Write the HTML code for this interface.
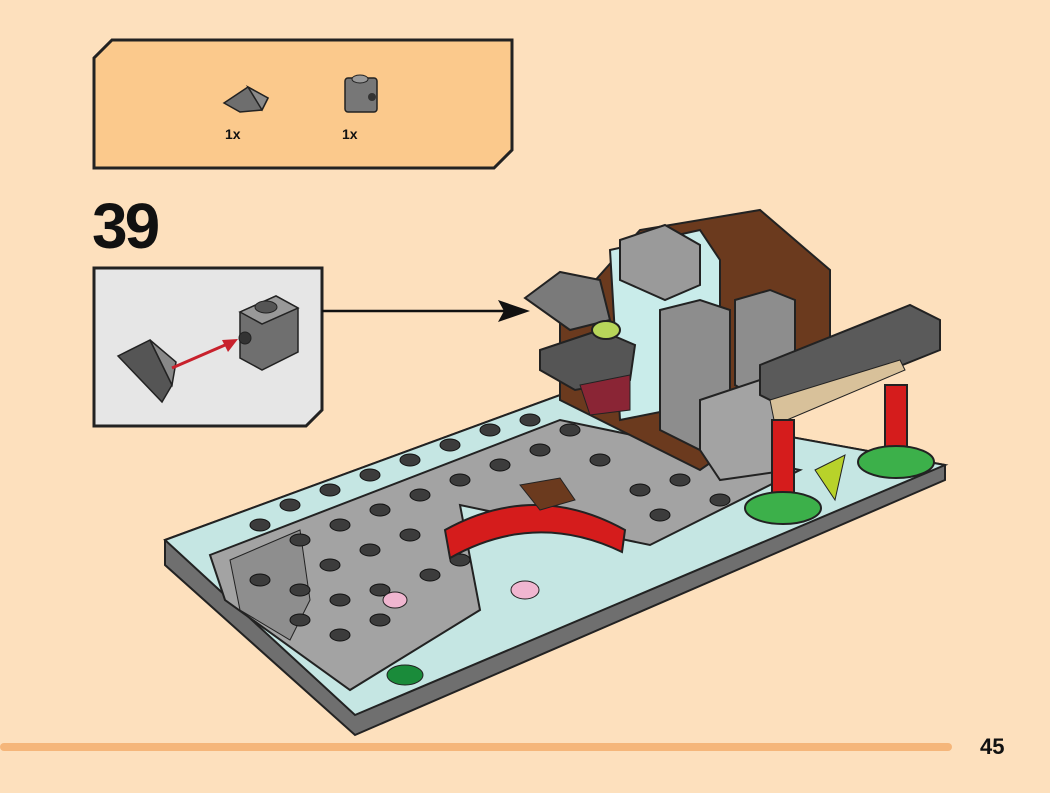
<!DOCTYPE html>
<html><head><meta charset="utf-8"><style>
html,body{margin:0;padding:0;}
body{width:1050px;height:793px;background:#fde0bd;position:relative;overflow:hidden;font-family:"Liberation Sans",sans-serif;}
</style></head><body>
<svg width="1050" height="793" viewBox="0 0 1050 793" style="position:absolute;left:0;top:0">
<!-- parts box -->
<polygon points="112,40 512,40 512,150 494,168 94,168 94,58" fill="#fbc98c" stroke="#222" stroke-width="3"/>
<polygon points="224,103 248,87 268,98 262,110 240,112" fill="#6e6e6e" stroke="#222" stroke-width="1.5"/>
<polygon points="248,87 268,98 262,110" fill="#8a8a8a" stroke="#222" stroke-width="1.5"/>
<rect x="345" y="78" width="32" height="34" rx="3" fill="#777" stroke="#222" stroke-width="1.5"/>
<ellipse cx="360" cy="79" rx="8" ry="4" fill="#999" stroke="#222"/>
<circle cx="372" cy="97" r="4" fill="#333"/>
<text x="225" y="139" font-size="14" font-weight="bold" fill="#111">1x</text>
<text x="342" y="139" font-size="14" font-weight="bold" fill="#111">1x</text>
<text x="92" y="248" font-size="64" font-weight="bold" fill="#111" letter-spacing="-3">39</text>
<!-- sub box -->
<polygon points="94,268 322,268 322,410 306,426 94,426" fill="#e6e6e6" stroke="#222" stroke-width="3"/>
<polygon points="118,356 150,340 172,385 162,402" fill="#555" stroke="#222" stroke-width="1.5"/>
<polygon points="150,340 172,385 176,362" fill="#888" stroke="#222" stroke-width="1.5"/>
<line x1="172" y1="368" x2="232" y2="342" stroke="#c8212c" stroke-width="3"/>
<polygon points="238,339 222,340 228,352" fill="#c8212c"/>
<polygon points="240,312 276,296 298,308 298,352 262,370 240,358" fill="#6f6f6f" stroke="#222" stroke-width="1.5"/>
<polygon points="240,312 276,296 298,308 262,324" fill="#999" stroke="#222" stroke-width="1.5"/>
<ellipse cx="266" cy="307" rx="11" ry="6" fill="#555" stroke="#222"/>
<circle cx="245" cy="338" r="6" fill="#333" stroke="#222"/>
<line x1="322" y1="311" x2="505" y2="311" stroke="#111" stroke-width="2.5"/>
<polygon points="530,311 498,300 504,311 498,322" fill="#111"/>
<!-- model base -->
<polygon points="165,540 560,395 945,465 945,480 355,735 165,565" fill="#6f6f6f" stroke="#222" stroke-width="2"/>
<polygon points="165,540 560,395 945,465 355,715" fill="#c5e6e3" stroke="#222" stroke-width="2"/>
<polygon points="210,555 560,420 800,470 650,545 460,505 480,610 350,690 225,600" fill="#a3a3a3" stroke="#222" stroke-width="2"/>
<polygon points="230,560 300,530 310,600 290,640 240,610" fill="#8e8e8e" stroke="#222"/>
<!-- studs -->
<g fill="#3c3c3c" stroke="#111">
<ellipse cx="260" cy="525" rx="10" ry="6"/><ellipse cx="290" cy="505" rx="10" ry="6"/><ellipse cx="330" cy="490" rx="10" ry="6"/>
<ellipse cx="370" cy="475" rx="10" ry="6"/><ellipse cx="410" cy="460" rx="10" ry="6"/><ellipse cx="450" cy="445" rx="10" ry="6"/>
<ellipse cx="490" cy="430" rx="10" ry="6"/><ellipse cx="530" cy="420" rx="10" ry="6"/><ellipse cx="570" cy="430" rx="10" ry="6"/>
<ellipse cx="300" cy="540" rx="10" ry="6"/><ellipse cx="340" cy="525" rx="10" ry="6"/><ellipse cx="380" cy="510" rx="10" ry="6"/>
<ellipse cx="420" cy="495" rx="10" ry="6"/><ellipse cx="460" cy="480" rx="10" ry="6"/><ellipse cx="500" cy="465" rx="10" ry="6"/>
<ellipse cx="540" cy="450" rx="10" ry="6"/><ellipse cx="600" cy="460" rx="10" ry="6"/><ellipse cx="640" cy="490" rx="10" ry="6"/>
<ellipse cx="680" cy="480" rx="10" ry="6"/><ellipse cx="720" cy="500" rx="10" ry="6"/><ellipse cx="660" cy="515" rx="10" ry="6"/>
<ellipse cx="330" cy="565" rx="10" ry="6"/><ellipse cx="370" cy="550" rx="10" ry="6"/><ellipse cx="410" cy="535" rx="10" ry="6"/>
<ellipse cx="260" cy="580" rx="10" ry="6"/><ellipse cx="300" cy="590" rx="10" ry="6"/><ellipse cx="340" cy="600" rx="10" ry="6"/>
<ellipse cx="380" cy="590" rx="10" ry="6"/><ellipse cx="430" cy="575" rx="10" ry="6"/><ellipse cx="460" cy="560" rx="10" ry="6"/>
<ellipse cx="300" cy="620" rx="10" ry="6"/><ellipse cx="340" cy="635" rx="10" ry="6"/><ellipse cx="380" cy="620" rx="10" ry="6"/>
</g>
<!-- red arch -->
<path d="M445,530 Q535,480 625,530 L622,552 Q535,510 450,558 Z" fill="#d51c1c" stroke="#222" stroke-width="2"/>
<polygon points="520,485 560,478 575,500 540,510" fill="#6b3a1e" stroke="#222"/>
<!-- building -->
<polygon points="560,320 640,230 760,210 830,270 830,380 700,470 600,420 560,400" fill="#6b3a1e" stroke="#222" stroke-width="2"/>
<polygon points="610,250 700,230 720,260 720,400 620,420" fill="#c9ecea" stroke="#222" stroke-width="2"/>
<polygon points="620,240 665,225 700,245 700,285 665,300 620,280" fill="#9a9a9a" stroke="#222" stroke-width="2"/>
<polygon points="660,310 700,300 730,310 730,420 700,450 660,430" fill="#8d8d8d" stroke="#222" stroke-width="2"/>
<polygon points="735,300 770,290 795,300 795,390 760,400 735,385" fill="#8d8d8d" stroke="#222" stroke-width="2"/>
<polygon points="700,400 760,380 790,400 790,470 720,480 700,450" fill="#a3a3a3" stroke="#222" stroke-width="2"/>
<polygon points="525,298 560,272 600,280 610,320 570,330" fill="#7a7a7a" stroke="#222" stroke-width="2"/>
<polygon points="540,350 600,330 635,345 630,380 575,390 540,370" fill="#555" stroke="#222" stroke-width="2"/>
<polygon points="580,385 630,375 630,410 590,415" fill="#8a2535" stroke="#222"/>
<ellipse cx="606" cy="330" rx="14" ry="9" fill="#b7d65a" stroke="#222" stroke-width="2"/>
<!-- torii gate -->
<polygon points="760,365 910,305 940,320 940,350 790,410 760,395" fill="#5a5a5a" stroke="#222" stroke-width="2"/>
<polygon points="770,400 900,360 905,370 775,425" fill="#d8c19a" stroke="#222"/>
<rect x="772" y="420" width="22" height="85" fill="#d51c1c" stroke="#222" stroke-width="2"/>
<rect x="885" y="385" width="22" height="75" fill="#d51c1c" stroke="#222" stroke-width="2"/>
<ellipse cx="783" cy="508" rx="38" ry="16" fill="#3cb04a" stroke="#222" stroke-width="2"/>
<ellipse cx="896" cy="462" rx="38" ry="16" fill="#3cb04a" stroke="#222" stroke-width="2"/>
<polygon points="815,470 845,455 835,500" fill="#b8d22a" stroke="#222"/>
<ellipse cx="405" cy="675" rx="18" ry="10" fill="#1a8b3a" stroke="#222"/>
<ellipse cx="525" cy="590" rx="14" ry="9" fill="#f0b6d0" stroke="#222"/>
<ellipse cx="395" cy="600" rx="12" ry="8" fill="#f0b6d0" stroke="#222"/>
<!-- footer -->
<rect x="0" y="743" width="952" height="8" rx="4" fill="#f5b67a"/>
<text x="980" y="754" font-size="22" font-weight="bold" fill="#111">45</text>
</svg>
</body></html>
